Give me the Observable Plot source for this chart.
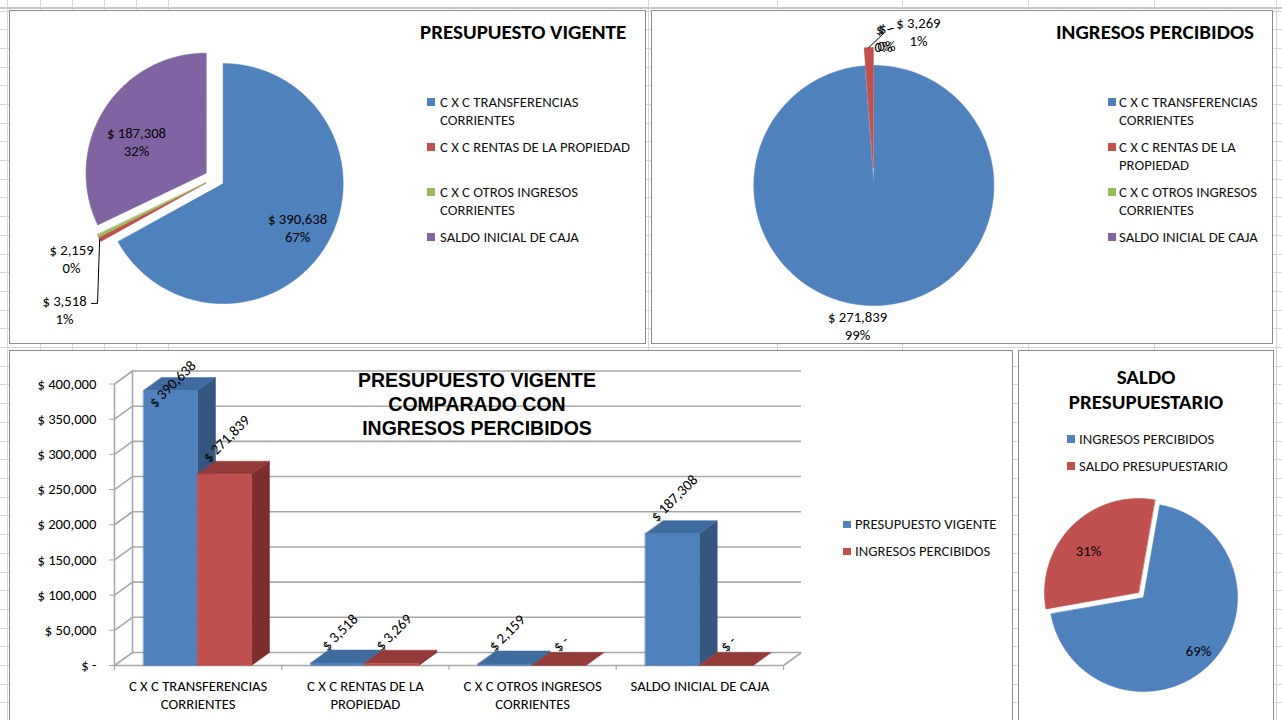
<!DOCTYPE html>
<html><head><meta charset="utf-8">
<script src="https://cdn.jsdelivr.net/npm/d3@7"></script>
<script src="https://cdn.jsdelivr.net/npm/@observablehq/plot@0.6"></script>
<style>
body{margin:0;width:1282px;height:720px;overflow:hidden;position:relative;background:#fff;font-family:Carlito,Calibri,Roboto,sans-serif;color:#000}
.abs{position:absolute}
.panel{position:absolute;background:#fff;border:1.5px solid #8c8c8c;box-sizing:border-box}
.gl{position:absolute;background:#d6d6d6}
.txt{position:absolute;white-space:pre;font-size:14.7px;line-height:18px;color:#111}
.ttl{position:absolute;white-space:pre;font-weight:bold;color:#000}
</style></head>
<body>
<script>
// ---------------- data ----------------
const categories = ["C X C TRANSFERENCIAS CORRIENTES", "C X C RENTAS DE LA PROPIEDAD", "C X C OTROS INGRESOS CORRIENTES", "SALDO INICIAL DE CAJA"];
const categoryLines = ["C X C TRANSFERENCIAS\nCORRIENTES", "C X C RENTAS DE LA\nPROPIEDAD", "C X C OTROS INGRESOS\nCORRIENTES", "SALDO INICIAL DE CAJA"];
const legendLinesVigente = ["C X C TRANSFERENCIAS\nCORRIENTES", "C X C RENTAS DE LA PROPIEDAD", "C X C OTROS INGRESOS\nCORRIENTES", "SALDO INICIAL DE CAJA"];
const legendLinesPercibidos = ["C X C TRANSFERENCIAS\nCORRIENTES", "C X C RENTAS DE LA\nPROPIEDAD", "C X C OTROS INGRESOS\nCORRIENTES", "SALDO INICIAL DE CAJA"];
const presupuestoVigente = [390638, 3518, 2159, 187308];
const ingresosPercibidos = [271839, 3269, 0, 0];
const barSeries = ["PRESUPUESTO VIGENTE", "INGRESOS PERCIBIDOS"];
const saldoCategories = ["INGRESOS PERCIBIDOS", "SALDO PRESUPUESTARIO"];
const saldoValues = [275108, 121207];
const yTicks = [0, 50000, 100000, 150000, 200000, 250000, 300000, 350000, 400000];
const categoryColors = ["#4f81bd", "#c0504d", "#9bbb59", "#8064a2"];
const saldoColors = ["#4f81bd", "#c0504d"];

// ---------------- helpers ----------------
const FONT = "Carlito, Calibri, Roboto, sans-serif";
const FS = 14.7;
const fmt = d3.format(",");
const pct = d3.format(".0%");
const money = v => v === 0 ? "$ -" : "$ " + fmt(v);
function div(cls, left, top, w, h, extra) {
  const d = document.createElement("div");
  d.className = cls;
  Object.assign(d.style, {left: left + "px", top: top + "px"});
  if (w != null) d.style.width = w + "px";
  if (h != null) d.style.height = h + "px";
  if (extra) Object.assign(d.style, extra);
  document.body.appendChild(d);
  return d;
}
function place(svg, left, top) {
  svg.style.position = "absolute";
  svg.style.left = left + "px";
  svg.style.top = top + "px";
  document.body.appendChild(svg);
}

// ---------------- spreadsheet background ----------------
[7, 40, 72, 104, 136, 168, 648, 777, 902, 1028, 1154, 1276].forEach(x => div("gl", x, 0, 1, 720));
div("gl", 0, 7, 1282, 2, {background: "#c8c8c8"});
for (let y = 10.5; y < 720; y += 18.7) div("gl", 0, Math.round(y), 1282, 1);

// ---------------- panels ----------------
div("panel", 8.5, 9.5, 637, 334);
div("panel", 650.5, 9.5, 622, 334);
div("panel", 8.5, 349.5, 1004, 400);
div("panel", 1017.5, 349.5, 256, 400);

// ---------------- pies ----------------
function pieArcs(values, startDeg, e) {
  const a0 = startDeg * Math.PI / 180;
  return d3.pie().sort(null).value(d => d).startAngle(a0).endAngle(a0 + 2 * Math.PI)(values)
    .map((a, i) => {
      const mid = (a.startAngle + a.endAngle) / 2;
      return {...a, i, mid, ox: e * Math.sin(mid), oy: -e * Math.cos(mid)};
    });
}
function polar(a, k, shiftDeg = 0) {
  const t = a.mid + shiftDeg * Math.PI / 180;
  return [a.ox + k * Math.sin(t), a.oy - k * Math.cos(t)];
}
function drawPie({values, colors, start = 0, explodePx, r, cx, cy, left, top, W, H, labels, leaders = []}) {
  const arcs = pieArcs(values, start, explodePx / r);
  const total = d3.sum(values);
  const pts = [];
  arcs.forEach(a => {
    const span = a.endAngle - a.startAngle;
    if (span <= 0) return;
    pts.push({id: a.i, x: a.ox, y: a.oy, fill: colors[a.i]});
    const n = Math.max(2, Math.ceil(span / 0.01));
    for (let k = 0; k <= n; k++) {
      const t = a.startAngle + span * k / n;
      pts.push({id: a.i, x: a.ox + Math.sin(t), y: a.oy - Math.cos(t), fill: colors[a.i]});
    }
  });
  const lab = labels.map(L => {
    const a = arcs[L.i];
    const [x, y] = polar(a, L.k, L.shift);
    return {x, y, text: L.text(values[a.i], total)};
  });
  const leadPts = [];
  leaders.forEach((f, j) => f(arcs, lab, r).forEach(([x, y]) => leadPts.push({id: j, x, y})));
  const lx = cx - left, ly = cy - top;
  const svg = Plot.plot({
    width: W, height: H, margin: 0,
    x: {domain: [-lx / r, (W - lx) / r], range: [0, W], axis: null},
    y: {domain: [-ly / r, (H - ly) / r], range: [0, H], axis: null},
    color: {type: "identity"},
    style: {background: "transparent", fontFamily: FONT, overflow: "visible"},
    marks: [
      Plot.line(pts, {x: "x", y: "y", z: "id", fill: "fill", stroke: "fill", strokeWidth: 0.6, curve: "linear-closed"}),
      Plot.line(leadPts, {x: "x", y: "y", z: "id", stroke: "#000", strokeWidth: 1}),
      Plot.text(lab, {x: "x", y: "y", text: "text", fontSize: FS, lineHeight: 18 / FS, fill: "#000"})
    ]
  });
  place(svg, left, top);
}
const moneyPct = (v, t) => `${money(v)}\n${pct(v / t)}`;

// PRESUPUESTO VIGENTE pie
drawPie({
  values: presupuestoVigente, colors: categoryColors, explodePx: 10, r: 120, cx: 214, cy: 178,
  left: 9, top: 10, W: 636, H: 333,
  labels: [
    {i: 0, k: 0.72, shift: 0, text: moneyPct},
    {i: 3, k: 0.637, shift: -7.7, text: moneyPct},
    {i: 2, k: 1.28, shift: -3.07, text: moneyPct},
    {i: 1, k: 1.578, shift: -13.85, text: moneyPct}
  ],
  leaders: [(arcs, lab, r) => {
    const L = lab[3];
    return [[L.x + 27 / r, L.y - 6 / r], [L.x + 33 / r, L.y - 6 / r], polar(arcs[1], 1, 0)];
  }]
});

// INGRESOS PERCIBIDOS pie
drawPie({
  values: ingresosPercibidos, colors: categoryColors, explodePx: 9, r: 120, cx: 873, cy: 176,
  left: 651, top: 10, W: 621, H: 333,
  labels: [
    {i: 0, k: 1.174, shift: 8.78, text: moneyPct},
    {i: 1, k: 1.198, shift: 20.5, text: moneyPct},
    {i: 2, k: 1.097, shift: 5.67, text: moneyPct},
    {i: 3, k: 1.087, shift: 4.4, text: moneyPct}
  ],
  leaders: [(arcs, lab, r) => {
    const L = lab[2];
    return [polar(arcs[1], 1, 0), [L.x - 3 / r, L.y - 3 / r]];
  }]
});

// SALDO PRESUPUESTARIO pie
drawPie({
  values: saldoValues, colors: saldoColors, start: 10, explodePx: 3.5, r: 94, cx: 1140.5, cy: 594.5,
  left: 1018, top: 350, W: 255, H: 370,
  labels: [
    {i: 0, k: 0.813, shift: -1, text: (v, t) => pct(v / t)},
    {i: 1, k: 0.695, shift: -4.9, text: (v, t) => pct(v / t)}
  ]
});

// ---------------- 3D column chart ----------------
{
  const BW = 1003, BH = 370, ML = 105, MR = 229, MT = 33.5, MB = 55;
  const pxX = categories.length / (BW - ML - MR), pxY = 400000 / (BH - MT - MB);
  const DX = 18 * pxX, DY = 13 * pxY;
  const PAD = 29 * pxX, BARW = 54 * pxX;
  const front = ["#4f81bd", "#c0504d"], topc = ["#3f6b9e", "#943a38"], side = ["#34567f", "#7d2e2c"];
  const grid = "#a8a8a8";
  const faces = [], labels = [];
  categories.forEach((c, i) => {
    [presupuestoVigente[i], ingresosPercibidos[i]].forEach((v, s) => {
      const x0 = i + PAD + s * BARW, x1 = x0 + BARW, id = `${i}-${s}`;
      const poly = (name, p, fill) => p.forEach(([x, y]) => faces.push({id: id + name, x, y, fill}));
      if (v > 0) poly("s", [[x1, 0], [x1 + DX, DY], [x1 + DX, v + DY], [x1, v]], side[s]);
      poly("t", [[x0, v], [x1, v], [x1 + DX, v + DY], [x0 + DX, v + DY]], topc[s]);
      if (v > 0) poly("f", [[x0, 0], [x1, 0], [x1, v], [x0, v]], front[s]);
      // rotated label: its lower end sits just above the bar's back top edge
      const text = money(v);
      const half = 0.3536 * text.length * 6.4;
      labels.push({x: (x0 + x1) / 2 + 2 * pxX, y: Math.min(v + DY + (2 + half) * pxY, 400000), text});
    });
  });
  const svg = Plot.plot({
    width: BW, height: BH, marginLeft: ML, marginRight: MR, marginTop: MT, marginBottom: MB,
    x: {domain: [0, categories.length], axis: null},
    y: {domain: [0, 400000]},
    color: {type: "identity"},
    style: {background: "transparent", fontFamily: FONT, overflow: "visible"},
    marks: [
      Plot.ruleY(yTicks, {x1: DX, x2: categories.length + DX, y: d => d + DY, stroke: grid, strokeWidth: 1.6}),
      Plot.link(yTicks, {x1: 0, y1: d => d, x2: DX, y2: d => d + DY, stroke: grid, strokeWidth: 1.6}),
      Plot.ruleX([DX], {y1: DY, y2: 400000 + DY, stroke: grid, strokeWidth: 1.6}),
      Plot.ruleX([0], {y1: 0, y2: 400000, stroke: grid, strokeWidth: 1.6}),
      Plot.ruleY([0], {x1: 0, x2: categories.length, stroke: grid, strokeWidth: 1.6}),
      Plot.link([0], {x1: categories.length, y1: 0, x2: categories.length + DX, y2: DY, stroke: grid, strokeWidth: 1.6}),
      Plot.ruleX(d3.range(categories.length + 1), {y1: 0, y2: -5 * pxY, stroke: grid, strokeWidth: 1.2}),
      Plot.axisY(yTicks, {tickFormat: money, tickSize: 5, tickPadding: 13, fontSize: FS, stroke: grid, fill: "#000", label: null}),
      Plot.line(faces, {x: "x", y: "y", z: "id", fill: "fill", stroke: "fill", strokeWidth: 0.5, curve: "linear-closed"}),
      Plot.text(labels, {x: "x", y: "y", text: "text", rotate: -45, fontSize: FS, fill: "#000"}),
      Plot.text(categoryLines, {x: (d, i) => i + 0.5, y: () => 0, text: d => d, lineAnchor: "top", dy: 13, lineHeight: 18 / FS, fontSize: FS, fill: "#000"})
    ]
  });
  place(svg, 9, 350);
}

// ---------------- titles ----------------
div("ttl", 420, 19, null, null, {fontSize: "21px", lineHeight: "26px", fontFamily: FONT}).textContent = "PRESUPUESTO VIGENTE";
div("ttl", 1056, 19, null, null, {fontSize: "21px", lineHeight: "26px", fontFamily: FONT}).textContent = "INGRESOS PERCIBIDOS";
div("ttl", 277, 368, 400, null, {fontSize: "19.5px", lineHeight: "24px", textAlign: "center", fontFamily: "'Liberation Sans', Arial, sans-serif"}).textContent = "PRESUPUESTO VIGENTE\nCOMPARADO CON\nINGRESOS PERCIBIDOS";
div("ttl", 1046, 364.5, 200, null, {fontSize: "21px", lineHeight: "25px", textAlign: "center", fontFamily: FONT}).textContent = "SALDO\nPRESUPUESTARIO";

// ---------------- legends ----------------
function legend(items, colors, sqLeft, textLeft, firstY, step) {
  items.forEach((t, i) => {
    const cy = firstY + step * i;
    div("abs", sqLeft, cy - 3.5, 7.5, 7.5, {background: colors[i]});
    div("txt", textLeft, cy - 9).textContent = t;
  });
}
legend(legendLinesVigente, categoryColors, 427, 440, 101.5, 45);
legend(legendLinesPercibidos, categoryColors, 1108, 1119, 101.5, 45);
legend(barSeries, ["#4f81bd", "#c0504d"], 843, 855, 524, 27);
legend(saldoCategories, saldoColors, 1067, 1079, 438.5, 27);
</script>
</body></html>
